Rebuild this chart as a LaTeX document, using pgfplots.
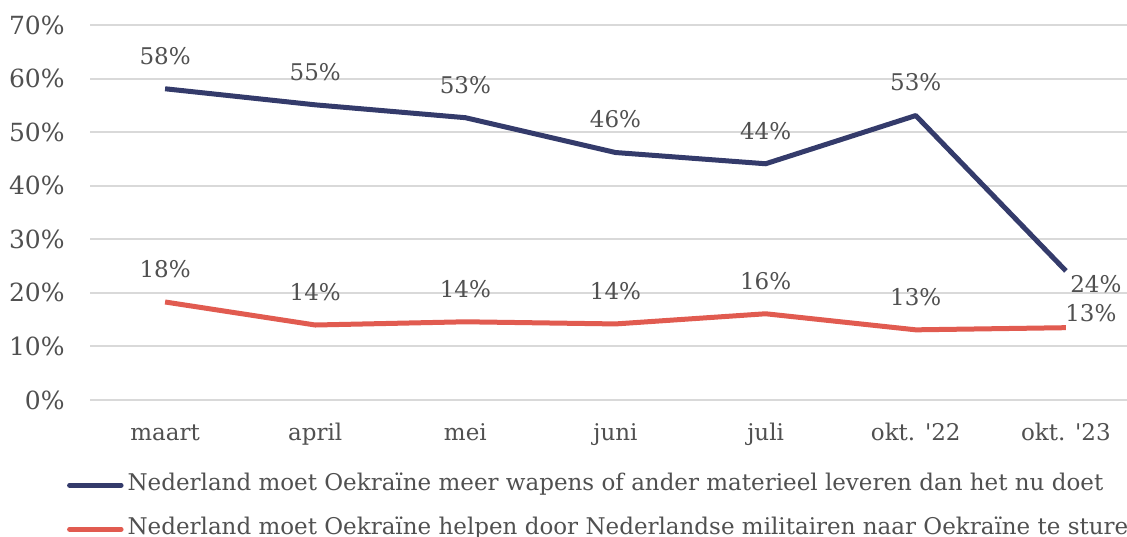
\documentclass[border=0pt]{standalone}
\usepackage{fontspec}
\setmainfont{DejaVu Serif}
\usepackage{pgfplots}
\pgfplotsset{compat=1.18}
\definecolor{navy}{HTML}{343B6B}
\definecolor{coral}{HTML}{E15B50}
\definecolor{txt}{HTML}{505050}
\definecolor{gridc}{HTML}{D9D9D9}

\begin{document}
\begin{tikzpicture}[font=\fontsize{11.5pt}{13.5pt}\selectfont, text=txt]
\begin{axis}[
  scale only axis, width=518.5pt, height=187.5pt,
  xmin=-0.5, xmax=6.407, ymin=0, ymax=70,
  xtick={0,...,6},
  xticklabels={maart,april,mei,juni,juli,okt. \textquotesingle22,okt. \textquotesingle23},
  ytick={0,10,...,70},
  yticklabel={\pgfmathprintnumber{\tick}\%},
  /pgf/number format/assume math mode=true,
  xticklabel style={anchor=base, yshift=-20pt, text=txt},
  yticklabel style={anchor=east, inner sep=0pt, xshift=-12.5pt, text=txt,
    font=\fontsize{12.5pt}{14pt}\selectfont},
  axis line style={draw=none}, major tick length=0pt,
  ymajorgrids, grid style={gridc, line width=1pt},
  clip=false,
  point meta=explicit symbolic,
  every node near coord/.append style={text=txt, anchor=center, yshift=16.5pt},
  legend style={at={(axis description cs:-0.0225,-0.193)}, anchor=north west,
    draw=none, fill=none, inner sep=0pt, row sep=9.5pt, column sep=1pt,
    nodes={inner sep=1pt, text height=8pt, text depth=2.5pt, text=txt}},
  legend cell align=left,
  legend image code/.code={\draw[#1, line width=2.5pt, line cap=round] (1.25pt,0) -- (27pt,0);},
]
\addplot[navy, line width=2.5pt, line join=round, nodes near coords] coordinates {
  (0,58.1)[58\%] (1,55.1)[55\%] (2,52.7)[53\%] (3,46.2)[46\%]
  (4,44.1)[44\%] (5,53.1)[53\%] (6,24.1)[]};
\addlegendentry{Nederland moet Oekraïne meer wapens of ander materieel leveren dan het nu doet}
\addplot[coral, line width=2.5pt, line join=round, nodes near coords] coordinates {
  (0,18.3)[18\%] (1,14.0)[14\%] (2,14.6)[14\%] (3,14.2)[14\%]
  (4,16.1)[16\%] (5,13.1)[13\%] (6,13.5)[]};
\addlegendentry{Nederland moet Oekraïne helpen door Nederlandse militairen naar Oekraïne te sturen}
% labels of the last point, placed beside it
\addplot[draw=none, forget plot, nodes near coords,
  every node near coord/.append style={xshift=15pt, yshift=-23pt}]
  coordinates {(6,24.1)[24\%]};
\addplot[draw=none, forget plot, nodes near coords,
  every node near coord/.append style={xshift=12.5pt, yshift=-9pt}]
  coordinates {(6,13.5)[13\%]};
\coordinate (bbsw) at (axis description cs:-0.0868,-0.3627);
\coordinate (bbne) at (axis description cs:1,1.0667);
\end{axis}
\pgfresetboundingbox
\path[use as bounding box] (bbsw) rectangle (bbne);
\end{tikzpicture}
\end{document}
